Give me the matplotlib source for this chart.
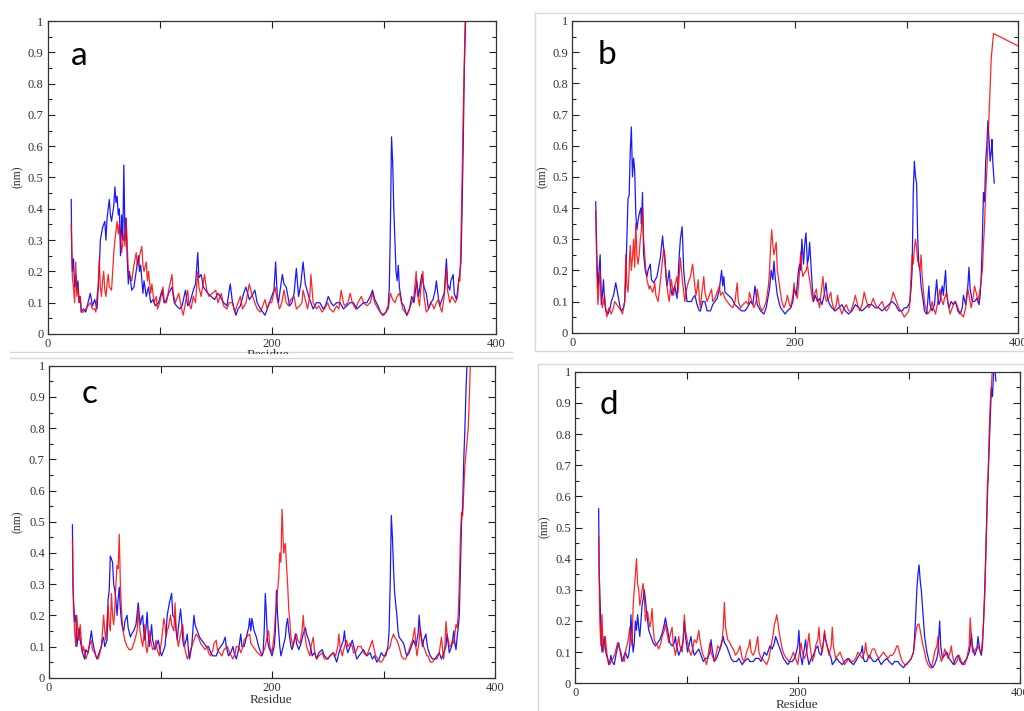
import matplotlib
matplotlib.use("Agg")
import matplotlib.pyplot as plt
from matplotlib.lines import Line2D
from matplotlib.ticker import FixedLocator, MultipleLocator, FuncFormatter
from matplotlib.transforms import Bbox, TransformedBbox

#-------RMSF data (residue, nm)-------#

a_blue = [(21,0.43),(21.5,0.27),(22,0.2),(23,0.24),(24,0.15),(25,0.19),(26,0.14),(27,0.17),(28,0.1),(29,0.12),(30,0.07),(32,0.08),(34,0.07),(36,0.1),(38,0.13),(40,0.09),(42,0.11),(44,0.08),(46,0.2),(47,0.3),(49,0.34),(51,0.36),(52,0.3),(53,0.37),(55,0.43),(56,0.38),(57,0.36),(59,0.41),(60,0.47),(61,0.42),(62,0.44),(63,0.38),(64,0.4),(65,0.25),(66,0.38),(67,0.3),(68,0.54),(69,0.3),(70,0.37),(71,0.24),(72,0.16),(73,0.2),(75,0.14),(77,0.15),(79,0.2),(81,0.25),(82,0.2),(83,0.22),(85,0.13),(86,0.17),(88,0.12),(90,0.15),(92,0.1),(94,0.11),(96,0.09),(99,0.1),(102,0.14),(104,0.1),(106,0.11),(108,0.13),(111,0.15),(113,0.1),(115,0.09),(118,0.08),(120,0.09),(123,0.14),(125,0.09),(127,0.1),(130,0.14),(132,0.16),(134,0.26),(135,0.18),(137,0.19),(139,0.15),(141,0.14),(143,0.13),(146,0.12),(149,0.11),(152,0.13),(154,0.12),(157,0.1),(160,0.09),(163,0.16),(165,0.1),(168,0.06),(170,0.08),(172,0.09),(175,0.13),(177,0.15),(180,0.11),(182,0.12),(185,0.14),(187,0.1),(190,0.08),(192,0.07),(194,0.06),(196,0.08),(198,0.1),(200,0.12),(202,0.14),(203.5,0.23),(205,0.12),(206,0.1),(208,0.15),(209.5,0.19),(211,0.16),(213,0.15),(216,0.09),(218,0.1),(220,0.13),(222,0.21),(224,0.12),(226,0.16),(228,0.23),(230,0.16),(233,0.12),(235,0.1),(237,0.08),(240,0.1),(243,0.1),(246,0.08),(248,0.09),(250.5,0.12),(253,0.1),(255,0.09),(258,0.1),(261,0.1),(264,0.08),(267,0.09),(270,0.1),(273,0.1),(276,0.08),(279,0.09),(282,0.1),(285,0.1),(288,0.12),(290,0.14),(292,0.11),(295,0.09),(297,0.07),(299,0.06),(302,0.07),(304,0.09),(305,0.15),(306,0.35),(307,0.63),(308,0.55),(309,0.4),(310,0.3),(311,0.2),(312,0.17),(313,0.22),(314,0.15),(316,0.1),(318,0.09),(320.5,0.06),(323,0.08),(325,0.12),(327,0.1),(329.5,0.17),(331,0.12),(334,0.19),(336,0.15),(338,0.13),(340,0.08),(342,0.1),(344,0.11),(346,0.14),(347,0.17),(349,0.11),(350,0.09),(352,0.11),(354,0.13),(356,0.24),(357,0.16),(359,0.14),(360,0.17),(362,0.19),(363,0.13),(365,0.11),(366,0.14),(367.5,0.18),(369,0.23),(370,0.4),(371,0.6),(372,0.85),(373.5,1.05)]

a_red = [(21,0.35),(22,0.18),(23,0.15),(24,0.1),(25,0.23),(26,0.12),(27,0.15),(28,0.1),(29,0.12),(30,0.07),(32,0.07),(34,0.08),(36,0.09),(38,0.1),(40,0.08),(42,0.08),(43,0.07),(44,0.12),(45,0.15),(46,0.24),(47,0.15),(48,0.12),(49,0.17),(50,0.2),(51,0.14),(52,0.12),(53,0.16),(54,0.19),(55,0.15),(57,0.14),(58,0.2),(59,0.26),(60,0.3),(62,0.36),(63,0.32),(64,0.35),(65,0.3),(66,0.26),(67,0.29),(68,0.32),(69,0.28),(70,0.37),(71,0.28),(72,0.2),(74,0.18),(75,0.17),(77,0.22),(79,0.26),(80,0.22),(81,0.22),(82,0.25),(84,0.28),(85,0.22),(86,0.2),(88,0.23),(89,0.17),(90,0.2),(92,0.13),(93,0.16),(95,0.1),(97,0.12),(98,0.08),(100,0.1),(103,0.15),(104,0.1),(106,0.1),(108,0.14),(111,0.19),(112,0.13),(114,0.1),(117,0.13),(119,0.09),(121,0.06),(123,0.1),(125,0.14),(126,0.1),(128,0.08),(130,0.12),(132,0.1),(134,0.2),(135,0.15),(137,0.12),(140,0.19),(142,0.14),(144,0.12),(147,0.13),(150,0.14),(152,0.1),(155,0.13),(157,0.09),(160,0.08),(162,0.1),(165,0.1),(167,0.07),(168,0.08),(170,0.1),(172,0.12),(174,0.08),(177,0.1),(180,0.16),(182,0.13),(185,0.1),(187,0.08),(190,0.07),(192,0.09),(194,0.11),(196,0.08),(198,0.1),(200,0.1),(203,0.15),(205,0.11),(207,0.08),(209,0.1),(211,0.14),(213,0.1),(215,0.09),(217,0.11),(220,0.12),(222,0.08),(225,0.09),(227,0.1),(228,0.14),(230,0.11),(232,0.08),(234,0.12),(235,0.19),(237,0.1),(240,0.08),(242,0.09),(245,0.07),(247,0.08),(250,0.1),(252,0.08),(255,0.07),(258,0.09),(260,0.08),(262,0.14),(264,0.1),(265,0.09),(268,0.1),(270,0.13),(272,0.1),(275,0.08),(277,0.1),(280,0.12),(282,0.1),(285,0.09),(288,0.1),(290,0.13),(292,0.1),(295,0.08),(297,0.07),(300,0.06),(302,0.07),(304,0.08),(306,0.13),(308,0.11),(310,0.1),(312,0.12),(314,0.13),(316,0.1),(317,0.08),(319,0.07),(321,0.06),(323,0.08),(325,0.1),(327,0.12),(329,0.2),(330,0.13),(332,0.09),(333,0.14),(335,0.2),(336,0.12),(338,0.07),(340,0.08),(342,0.1),(344,0.09),(345,0.08),(347,0.1),(349,0.11),(350,0.09),(352,0.07),(354,0.12),(356,0.21),(357,0.14),(359,0.1),(361,0.12),(364,0.1),(366,0.12),(367,0.18),(368,0.17),(369,0.3),(370,0.5),(371,0.7),(372,0.88),(373,1.05)]

b_blue = [(21,0.42),(22,0.25),(23,0.14),(24,0.2),(25,0.25),(26,0.09),(27,0.12),(28,0.17),(29,0.1),(30,0.07),(32,0.06),(34,0.08),(35,0.1),(37,0.12),(39,0.16),(41,0.12),(43,0.08),(44,0.07),(46,0.08),(47,0.1),(48,0.18),(49,0.3),(50,0.43),(51,0.44),(52,0.58),(53,0.66),(54,0.5),(55,0.56),(56,0.52),(56.5,0.45),(57,0.38),(58,0.33),(59,0.36),(60,0.38),(61.5,0.4),(62,0.35),(63,0.45),(64,0.25),(65.5,0.2),(67,0.18),(68,0.2),(70,0.22),(71,0.17),(73,0.16),(76,0.18),(78,0.22),(79,0.24),(81,0.31),(82,0.27),(83,0.25),(84,0.18),(85,0.15),(87,0.2),(88,0.15),(89.5,0.12),(91,0.14),(92,0.15),(94,0.11),(95,0.18),(96,0.25),(97,0.3),(98.5,0.34),(99,0.3),(100,0.2),(101,0.16),(103,0.1),(105,0.1),(107,0.1),(108,0.11),(110,0.12),(112,0.09),(114,0.07),(115,0.07),(117,0.1),(119,0.1),(121,0.07),(124,0.07),(126,0.09),(128,0.1),(130,0.11),(132,0.14),(134,0.2),(135,0.15),(136,0.18),(137,0.13),(140,0.12),(143,0.11),(146,0.09),(149,0.08),(152,0.07),(155,0.07),(157,0.08),(160,0.1),(162,0.09),(164,0.15),(166,0.09),(169,0.07),(172,0.06),(174,0.08),(175,0.1),(177,0.14),(178.5,0.2),(180,0.17),(181,0.23),(182,0.18),(184,0.12),(186,0.09),(187,0.08),(189,0.07),(191,0.06),(193,0.07),(196,0.08),(198,0.1),(199,0.14),(201,0.12),(203,0.2),(204,0.22),(205,0.2),(206,0.3),(207.5,0.22),(208.5,0.28),(209.7,0.32),(211,0.22),(212,0.24),(213,0.29),(214.5,0.2),(215.5,0.14),(216.5,0.1),(218,0.12),(220,0.1),(222,0.11),(224,0.09),(226,0.12),(227.6,0.16),(229,0.11),(231,0.09),(233,0.08),(236,0.07),(239,0.08),(242,0.09),(245,0.07),(248,0.06),(251,0.07),(254,0.09),(257,0.08),(260,0.07),(263,0.08),(266,0.09),(269,0.09),(272,0.08),(275,0.08),(278,0.07),(281,0.08),(284,0.09),(287,0.1),(290,0.09),(293,0.07),(296,0.07),(298,0.08),(300,0.08),(302,0.09),(303,0.1),(304,0.14),(305,0.2),(306,0.45),(307,0.55),(308,0.5),(309,0.48),(310,0.3),(311,0.22),(312,0.2),(313,0.15),(315,0.1),(316,0.07),(318,0.06),(319,0.1),(320,0.15),(321,0.09),(323,0.07),(325,0.09),(327,0.17),(328,0.12),(329,0.09),(330,0.1),(332,0.15),(333,0.12),(335,0.2),(336,0.12),(338,0.08),(340,0.1),(342,0.09),(344,0.1),(346,0.07),(348,0.06),(350,0.08),(351,0.12),(353,0.09),(355,0.15),(356,0.21),(357,0.14),(359,0.1),(361,0.1),(363,0.11),(365,0.09),(366,0.12),(367,0.18),(368,0.3),(369,0.45),(370,0.42),(371,0.55),(372,0.6),(373,0.68),(374,0.62),(375,0.55),(376,0.58),(376.6,0.62),(377.5,0.54),(378.7,0.48)]

b_red = [(21,0.39),(22,0.2),(23,0.09),(24,0.15),(25,0.2),(26,0.12),(27,0.08),(28,0.1),(29,0.12),(30,0.08),(31,0.05),(32,0.07),(33,0.08),(35,0.06),(37,0.08),(38,0.1),(40,0.09),(42,0.08),(44,0.07),(45,0.06),(47,0.1),(48,0.25),(49,0.15),(50,0.13),(51,0.2),(52,0.28),(53,0.2),(54,0.24),(55,0.3),(56,0.21),(57,0.35),(58,0.25),(59,0.22),(60,0.25),(61,0.3),(62,0.33),(63,0.4),(64,0.3),(65,0.25),(66,0.2),(67,0.17),(69,0.14),(70,0.15),(72,0.13),(73,0.14),(74,0.16),(75,0.12),(77,0.1),(78,0.13),(80,0.2),(82,0.27),(83,0.23),(84,0.2),(85,0.15),(86,0.12),(87,0.1),(88,0.14),(89,0.17),(90,0.14),(91,0.12),(92,0.15),(94,0.18),(95,0.13),(97,0.24),(98,0.2),(99,0.16),(101,0.1),(102,0.13),(104,0.16),(106,0.18),(108,0.22),(110,0.15),(111,0.12),(112,0.14),(113,0.17),(114,0.11),(115,0.08),(116,0.12),(118,0.18),(119,0.13),(121,0.1),(123,0.12),(125,0.14),(126,0.1),(128,0.11),(130,0.13),(132,0.15),(133,0.12),(135,0.13),(137,0.11),(139,0.1),(141,0.09),(144,0.08),(146,0.1),(148,0.16),(149,0.1),(151,0.08),(153,0.09),(156,0.1),(158,0.09),(159,0.13),(161,0.1),(163,0.08),(165,0.1),(166,0.14),(168,0.09),(170,0.07),(172,0.08),(174,0.1),(176,0.15),(177,0.2),(178,0.28),(179,0.33),(180,0.28),(181,0.25),(182,0.27),(183,0.29),(184,0.2),(186,0.15),(188,0.1),(190,0.08),(192,0.1),(193,0.12),(195,0.09),(196,0.08),(198,0.12),(199,0.16),(200,0.13),(202,0.11),(203,0.15),(204,0.2),(205,0.26),(206,0.2),(207,0.18),(208,0.19),(210,0.2),(211,0.22),(212,0.19),(213,0.17),(215,0.12),(216,0.1),(217,0.12),(219,0.14),(220,0.11),(222,0.08),(223,0.12),(225,0.18),(226,0.13),(228,0.1),(230,0.11),(232,0.13),(233,0.1),(235,0.07),(237,0.09),(238,0.12),(240,0.08),(242,0.06),(244,0.08),(246,0.09),(248,0.07),(250,0.07),(252,0.09),(254,0.12),(256,0.09),(258,0.07),(260,0.09),(262,0.13),(264,0.1),(266,0.08),(268,0.09),(270,0.11),(272,0.09),(274,0.08),(276,0.09),(278,0.1),(280,0.08),(282,0.07),(284,0.08),(286,0.1),(288,0.13),(290,0.11),(292,0.09),(293,0.08),(295,0.07),(298,0.05),(300,0.06),(302,0.07),(303,0.1),(304,0.18),(305,0.25),(306,0.22),(307,0.27),(308,0.3),(309,0.27),(310,0.23),(311,0.22),(312,0.2),(313,0.25),(314,0.18),(316,0.1),(317,0.08),(319,0.06),(321,0.07),(323,0.1),(324,0.08),(326,0.06),(328,0.1),(330,0.14),(331,0.11),(333,0.09),(334,0.11),(336,0.13),(337,0.1),(339,0.06),(341,0.08),(343,0.1),(345,0.09),(347,0.07),(349,0.06),(351,0.05),(353,0.08),(355,0.14),(356,0.12),(358,0.08),(360,0.12),(361,0.15),(363,0.12),(364,0.1),(366,0.14),(367,0.17),(368,0.2),(369,0.28),(370,0.35),(371,0.45),(372,0.52),(373,0.6),(374,0.7),(376,0.88),(378,0.96),(400,0.92)]

c_blue = [(21,0.49),(21.5,0.3),(22,0.25),(23,0.18),(24,0.2),(25,0.1),(26,0.13),(27,0.16),(28,0.12),(29,0.1),(30,0.08),(32,0.06),(33,0.09),(35,0.08),(36,0.1),(38,0.15),(39,0.12),(40,0.1),(42,0.07),(43,0.06),(45,0.08),(47,0.1),(48,0.12),(49,0.13),(50,0.1),(52,0.12),(53,0.25),(54,0.28),(55,0.39),(56,0.38),(57,0.37),(58,0.3),(59,0.28),(60,0.25),(61,0.2),(62,0.25),(63,0.29),(64,0.22),(65,0.18),(66,0.16),(67,0.15),(68,0.18),(70,0.2),(71,0.16),(73,0.13),(74,0.14),(76,0.15),(78,0.17),(80,0.24),(81,0.2),(82,0.17),(83,0.19),(84,0.2),(85,0.15),(86,0.12),(87,0.16),(88,0.21),(89,0.14),(90,0.1),(91,0.13),(92,0.17),(93,0.12),(95,0.09),(96,0.1),(98,0.12),(100,0.08),(101,0.07),(103,0.09),(104,0.1),(105,0.14),(106,0.2),(108,0.24),(110,0.27),(111,0.2),(113,0.19),(114,0.15),(115,0.12),(116,0.16),(118,0.22),(119,0.18),(120,0.12),(121,0.1),(123,0.12),(124,0.14),(125,0.09),(126,0.06),(128,0.1),(129,0.15),(130,0.2),(131,0.17),(133,0.15),(135,0.13),(137,0.12),(139,0.11),(141,0.1),(143,0.1),(145,0.08),(147,0.07),(150,0.07),(152,0.09),(154,0.1),(156,0.11),(158,0.13),(159,0.1),(161,0.07),(163,0.08),(165,0.1),(166,0.08),(168,0.06),(170,0.09),(172,0.14),(173,0.1),(175,0.1),(177,0.13),(179,0.16),(180,0.19),(181,0.15),(182,0.19),(183,0.17),(184,0.15),(186,0.13),(188,0.1),(189,0.09),(191,0.07),(192,0.08),(193,0.15),(194,0.27),(195,0.2),(196,0.12),(197,0.1),(199,0.08),(200,0.07),(202,0.1),(203,0.15),(204,0.28),(205,0.2),(206,0.15),(207,0.1),(208,0.07),(210,0.1),(212,0.13),(213,0.17),(214,0.19),(215,0.15),(217,0.1),(218,0.09),(220,0.12),(221,0.14),(222,0.11),(224,0.09),(226,0.11),(228,0.14),(230,0.16),(231,0.14),(233,0.12),(235,0.09),(236,0.07),(238,0.08),(240,0.06),(242,0.08),(245,0.09),(247,0.07),(250,0.06),(252,0.07),(255,0.08),(257,0.06),(258,0.05),(260,0.08),(262,0.1),(264,0.12),(265,0.15),(266,0.11),(268,0.08),(270,0.1),(272,0.12),(274,0.09),(276,0.06),(278,0.07),(280,0.08),(282,0.09),(285,0.07),(288,0.08),(290,0.06),(292,0.07),(294,0.05),(296,0.06),(298,0.08),(300,0.07),(302,0.07),(304,0.1),(305,0.15),(306,0.3),(307,0.52),(308,0.45),(309,0.35),(310,0.27),(312,0.2),(313,0.15),(314,0.13),(316,0.12),(318,0.11),(320,0.08),(321,0.07),(323,0.08),(325,0.1),(327,0.12),(329,0.1),(331,0.14),(332,0.2),(333,0.15),(335,0.1),(336,0.12),(338,0.14),(339,0.11),(340,0.09),(342,0.07),(344,0.06),(346,0.06),(348,0.07),(350,0.08),(352,0.06),(354,0.08),(356,0.1),(357,0.14),(358,0.11),(359,0.08),(361,0.1),(362,0.12),(363,0.15),(364,0.11),(365,0.09),(366,0.13),(367,0.16),(368,0.2),(369,0.35),(370,0.5),(371,0.55),(372,0.7),(373,0.8),(374,0.92),(375,1.02)]

c_red = [(21,0.44),(21.5,0.3),(22,0.22),(23,0.15),(24,0.1),(25,0.2),(26,0.14),(27,0.12),(28,0.17),(29,0.12),(30,0.08),(31,0.1),(33,0.06),(35,0.08),(36,0.1),(38,0.12),(39,0.09),(41,0.08),(42,0.07),(44,0.06),(45,0.07),(47,0.1),(48,0.15),(49,0.2),(50,0.15),(51,0.12),(52,0.18),(53,0.23),(54,0.17),(55,0.15),(56,0.27),(57,0.2),(58,0.17),(59,0.22),(60,0.3),(61,0.36),(62,0.35),(63,0.46),(64,0.3),(65,0.22),(66,0.16),(67,0.14),(68,0.12),(70,0.1),(72,0.09),(74,0.09),(75,0.1),(77,0.12),(79,0.15),(80,0.22),(81,0.17),(82,0.14),(83,0.12),(84,0.1),(85,0.13),(86,0.17),(87,0.1),(88,0.08),(89,0.11),(90,0.15),(91,0.12),(93,0.09),(95,0.1),(96,0.12),(97,0.09),(99,0.07),(101,0.12),(103,0.19),(104,0.17),(105,0.13),(106,0.15),(107,0.16),(109,0.2),(110,0.17),(112,0.15),(113,0.24),(114,0.16),(116,0.1),(117,0.12),(118,0.14),(120,0.17),(121,0.12),(122,0.09),(124,0.06),(126,0.08),(128,0.1),(130,0.12),(132,0.14),(134,0.13),(136,0.11),(138,0.1),(140,0.09),(142,0.1),(143,0.08),(145,0.07),(147,0.09),(148,0.11),(150,0.12),(151,0.09),(153,0.08),(155,0.07),(157,0.09),(160,0.1),(162,0.08),(165,0.06),(167,0.08),(168,0.1),(170,0.1),(172,0.08),(174,0.1),(175,0.12),(177,0.13),(180,0.14),(181,0.11),(183,0.1),(185,0.09),(187,0.08),(190,0.07),(192,0.08),(194,0.1),(195,0.12),(197,0.15),(198,0.1),(200,0.08),(201,0.11),(202,0.14),(203,0.2),(204,0.23),(205,0.28),(206,0.32),(207,0.4),(208,0.37),(209,0.54),(210,0.44),(210.5,0.4),(211,0.42),(212,0.43),(213,0.36),(214,0.3),(215,0.22),(216,0.18),(217,0.13),(219,0.1),(220,0.12),(222,0.14),(223,0.12),(225,0.11),(227,0.15),(228,0.2),(229,0.15),(231,0.1),(232,0.09),(234,0.07),(235,0.1),(237,0.13),(238,0.09),(240,0.06),(242,0.07),(245,0.08),(247,0.06),(250,0.06),(252,0.07),(255,0.08),(257,0.07),(259,0.1),(260,0.14),(261,0.1),(263,0.07),(265,0.1),(267,0.12),(268,0.1),(270,0.11),(272,0.1),(273,0.08),(275,0.08),(277,0.1),(280,0.1),(282,0.08),(285,0.07),(287,0.09),(288,0.1),(290,0.12),(291,0.1),(293,0.07),(295,0.06),(297,0.05),(298,0.05),(300,0.06),(302,0.08),(304,0.09),(306,0.1),(307,0.12),(309,0.14),(310,0.13),(312,0.12),(314,0.1),(316,0.07),(318,0.06),(320,0.06),(322,0.08),(324,0.1),(326,0.12),(328,0.16),(329,0.1),(330,0.07),(332,0.12),(333,0.16),(334,0.13),(336,0.1),(337,0.09),(339,0.07),(340,0.07),(342,0.05),(344,0.05),(346,0.06),(348,0.06),(350,0.08),(352,0.13),(353,0.09),(354,0.06),(355,0.1),(356,0.18),(357,0.14),(359,0.1),(360,0.1),(362,0.12),(363,0.11),(365,0.17),(366,0.16),(367,0.2),(368,0.3),(369,0.45),(370,0.53),(371,0.52),(372,0.6),(373,0.68),(374,0.72),(376,0.8),(377,0.9),(378,1.02)]

d_blue = [(21,0.56),(21.5,0.35),(22,0.3),(23,0.18),(24,0.1),(25,0.12),(26,0.15),(27,0.11),(28,0.09),(29,0.08),(30,0.06),(31,0.07),(32,0.09),(33,0.07),(35,0.06),(36,0.08),(37,0.1),(39,0.13),(40,0.11),(42,0.07),(43,0.08),(45,0.1),(47,0.08),(48,0.09),(49,0.12),(50,0.22),(51,0.15),(52,0.1),(53,0.13),(54,0.2),(55,0.17),(56,0.22),(57,0.18),(58,0.15),(59,0.2),(60,0.25),(61,0.27),(62,0.3),(63,0.27),(64,0.23),(65,0.2),(66,0.17),(67,0.16),(69,0.14),(70,0.13),(72,0.12),(74,0.13),(76,0.14),(78,0.16),(80,0.19),(81,0.21),(82,0.19),(84,0.15),(85,0.13),(87,0.12),(89,0.13),(90,0.15),(91,0.12),(93,0.09),(94,0.1),(96,0.12),(97,0.14),(98,0.2),(99,0.15),(101,0.1),(102,0.12),(104,0.15),(105,0.12),(107,0.09),(109,0.1),(111,0.11),(113,0.09),(115,0.07),(117,0.08),(119,0.08),(121,0.1),(122,0.14),(123,0.11),(125,0.07),(127,0.08),(129,0.1),(131,0.12),(133,0.15),(134,0.13),(136,0.12),(138,0.1),(140,0.08),(142,0.07),(145,0.07),(147,0.08),(150,0.06),(152,0.07),(155,0.08),(157,0.07),(160,0.07),(162,0.08),(165,0.08),(167,0.07),(170,0.1),(172,0.09),(175,0.12),(177,0.11),(179,0.13),(180,0.15),(181,0.14),(183,0.12),(185,0.1),(187,0.08),(189,0.07),(191,0.06),(193,0.07),(195,0.07),(197,0.08),(198,0.09),(200,0.12),(201,0.17),(202,0.1),(204,0.06),(205,0.09),(207,0.14),(208,0.1),(210,0.06),(212,0.08),(214,0.09),(216,0.11),(218,0.12),(219,0.1),(221,0.09),(223,0.13),(224,0.16),(225,0.14),(227,0.11),(228,0.1),(230,0.08),(231,0.06),(233,0.07),(235,0.08),(237,0.07),(240,0.06),(242,0.07),(245,0.08),(247,0.07),(250,0.06),(252,0.07),(255,0.09),(257,0.1),(258,0.12),(259,0.08),(260,0.07),(262,0.07),(264,0.09),(266,0.08),(268,0.07),(270,0.07),(272,0.08),(275,0.06),(277,0.07),(280,0.08),(282,0.07),(285,0.06),(287,0.07),(290,0.07),(292,0.06),(295,0.05),(297,0.06),(300,0.07),(302,0.08),(304,0.1),(305,0.15),(306,0.22),(307,0.3),(308,0.35),(309,0.38),(310,0.33),(311,0.3),(312,0.25),(313,0.2),(314,0.15),(316,0.1),(318,0.07),(319,0.06),(321,0.05),(323,0.06),(325,0.08),(326,0.1),(327.5,0.2),(328.5,0.12),(330,0.08),(332,0.09),(334,0.1),(336,0.08),(338,0.07),(340,0.06),(342,0.08),(344,0.09),(346,0.07),(348,0.06),(350,0.07),(352,0.08),(354,0.1),(355,0.12),(356,0.16),(357,0.12),(359,0.09),(361,0.11),(362,0.15),(363,0.12),(364,0.1),(365,0.09),(366,0.12),(367,0.2),(368,0.3),(369,0.43),(370,0.55),(371,0.66),(372,0.75),(373,0.85),(374,0.95),(375,0.92),(376,1.0),(377,1.02),(378,0.97)]

d_red = [(21,0.47),(21.5,0.32),(22,0.2),(23,0.12),(24,0.22),(25,0.1),(26,0.12),(27,0.15),(28,0.11),(29,0.08),(30,0.07),(31,0.06),(32,0.07),(34,0.08),(36,0.1),(38,0.13),(39,0.12),(41,0.1),(42,0.08),(44,0.07),(45,0.1),(47,0.13),(48,0.15),(49,0.18),(50,0.14),(51,0.12),(52,0.25),(53,0.3),(54,0.35),(55,0.4),(56,0.32),(57,0.3),(58,0.25),(59,0.27),(60,0.3),(61,0.32),(62,0.28),(63,0.2),(64,0.22),(65,0.23),(66,0.2),(67,0.18),(68,0.2),(69,0.24),(70,0.18),(71,0.14),(72,0.13),(74,0.12),(75,0.11),(77,0.13),(78,0.15),(80,0.17),(81,0.19),(82,0.17),(84,0.13),(85,0.15),(87,0.18),(88,0.13),(90,0.09),(91,0.11),(93,0.15),(94,0.12),(96,0.1),(97,0.14),(98,0.22),(99,0.17),(101,0.13),(102,0.11),(104,0.09),(105,0.1),(107,0.14),(109,0.13),(111,0.17),(112,0.14),(114,0.1),(116,0.08),(118,0.06),(119,0.08),(121,0.13),(122,0.1),(124,0.08),(125,0.07),(127,0.1),(128,0.12),(130,0.11),(132,0.14),(133,0.18),(134,0.26),(135,0.18),(137,0.14),(139,0.13),(140,0.12),(142,0.11),(144,0.09),(146,0.1),(148,0.12),(149,0.1),(150,0.08),(152,0.07),(154,0.1),(156,0.12),(157,0.14),(158,0.1),(160,0.09),(162,0.11),(164,0.15),(165,0.1),(167,0.08),(168,0.08),(170,0.07),(172,0.06),(174,0.08),(175,0.1),(177,0.14),(178,0.16),(179,0.19),(180,0.2),(181,0.22),(182,0.2),(183,0.17),(184,0.15),(186,0.11),(188,0.09),(190,0.08),(192,0.07),(194,0.08),(196,0.1),(198,0.08),(200,0.06),(201,0.09),(203,0.13),(204,0.1),(206,0.08),(208,0.1),(210,0.16),(211,0.12),(213,0.07),(215,0.09),(216,0.12),(218,0.14),(219,0.18),(220,0.13),(222,0.1),(223,0.13),(224,0.17),(225,0.14),(227,0.11),(228,0.09),(230,0.12),(231,0.18),(232,0.12),(234,0.08),(236,0.09),(238,0.1),(240,0.08),(242,0.06),(244,0.07),(246,0.08),(248,0.07),(250,0.07),(252,0.08),(254,0.1),(256,0.09),(258,0.08),(260,0.1),(261,0.13),(262,0.1),(264,0.08),(265,0.09),(267,0.11),(269,0.11),(271,0.09),(273,0.08),(275,0.09),(277,0.1),(279,0.09),(281,0.08),(283,0.09),(285,0.09),(287,0.1),(289,0.12),(290,0.12),(292,0.09),(294,0.07),(296,0.06),(298,0.06),(300,0.07),(302,0.08),(304,0.1),(305,0.13),(306,0.16),(307,0.18),(308,0.19),(309,0.19),(310,0.17),(311,0.15),(312,0.13),(314,0.1),(315,0.08),(317,0.06),(319,0.05),(320,0.05),(322,0.08),(323,0.1),(325,0.12),(326,0.15),(327,0.1),(329,0.07),(331,0.09),(332,0.11),(334,0.09),(335,0.08),(337,0.1),(338,0.12),(339,0.09),(341,0.06),(343,0.07),(345,0.09),(347,0.07),(349,0.06),(350,0.06),(352,0.08),(354,0.12),(355,0.21),(356,0.15),(357,0.1),(358,0.1),(360,0.11),(362,0.12),(363,0.11),(365,0.1),(366,0.14),(367,0.2),(368,0.28),(369,0.4),(370,0.55),(370.5,0.65),(371,0.65),(372,0.8),(373,0.9),(374,0.95),(375,1.02)]

panel_letters = ['a', 'b', 'c', 'd']
x_ticks = [0, 100, 200, 300, 400]
x_tick_labels = ['0', '', '200', '', '400']

W, H = 1024, 711


def fx(px):
    return px / W


def fy(py):
    return 1 - py / H


def axes_box(left, top, right, bottom):
    # pixel box of the plot frame -> figure fractions
    return [fx(left), fy(bottom), (right - left) / W, (bottom - top) / H]


def style_axes(ax):
    ax.set_xlim(0, 400)
    ax.set_ylim(0, 1)
    ax.xaxis.set_major_locator(FixedLocator(x_ticks))
    ax.set_xticklabels(x_tick_labels)
    ax.yaxis.set_major_locator(MultipleLocator(0.1))
    ax.yaxis.set_minor_locator(MultipleLocator(0.05))
    ax.yaxis.set_major_formatter(FuncFormatter(lambda v, p: f"{v:.1f}".rstrip('0').rstrip('.') if v else '0'))
    ax.tick_params(which='both', direction='in', top=True, right=True, width=0.8,
                   colors='#222222', labelcolor='#333333')
    ax.tick_params(which='major', length=5, pad=3, labelsize=9)
    ax.tick_params(which='minor', length=3)
    for s in ax.spines.values():
        s.set_linewidth(0.9)
        s.set_color('#333333')
    for lab in ax.get_xticklabels() + ax.get_yticklabels():
        lab.set_fontfamily('Liberation Serif')


def draw(ax, blue, red):
    bx, by = zip(*blue)
    rx, ry = zip(*red)
    ax.plot(bx, by, color='#0000ff', lw=0.9, alpha=0.9)
    ax.plot(rx, ry, color='#ff0000', lw=0.9, alpha=0.85)


fig = plt.figure(figsize=(W / 100, H / 100), dpi=100)

boxes = [
    axes_box(47.7, 21, 495.7, 334),
    axes_box(572.3, 21, 1018, 332.7),
    axes_box(49, 365.7, 495, 677.7),
    axes_box(575.3, 371.7, 1020.3, 683.3),
]
series = [(a_blue, a_red), (b_blue, b_red), (c_blue, c_red), (d_blue, d_red)]
letter_pos = [(70.5, 65), (598, 64), (82, 403), (600, 414)]
ylabel_pos = [(18, 177), (543, 177), (18, 522), (545, 527)]

for box, (blue, red), letter, lp, yp in zip(boxes, series, panel_letters, letter_pos, ylabel_pos):
    ax = fig.add_axes(box)
    draw(ax, blue, red)
    style_axes(ax)
    fig.text(fx(lp[0]), fy(lp[1]), letter, fontsize=24, family='Lato',
             ha='left', va='baseline', color='black')
    fig.text(fx(yp[0]), fy(yp[1]), '(nm)', rotation=90, fontsize=8.5,
             family='Liberation Serif', ha='center', va='center', color='#333333')

# x labels of the lower panels
fig.text(fx(271), fy(700), 'Residue', fontsize=9.5, family='Liberation Serif',
         ha='center', va='center', color='#333333')
fig.text(fx(797), fy(705), 'Residue', fontsize=9.5, family='Liberation Serif',
         ha='center', va='center', color='#333333')

# panel a label is cut off by the screenshot crop
t = fig.text(fx(268), fy(349.5), 'Residue', fontsize=9.5, family='Liberation Serif',
             ha='center', va='top', color='#333333')
t.set_clip_box(TransformedBbox(Bbox([[0, fy(353.5)], [1, 1]]), fig.transFigure))
t.set_clip_on(True)

# light grey borders of the pasted screenshots
grey = '#d8d8d8'
frame_lines = [
    ((10, 512), (352, 352)),
    ((10, 512), (358, 358)),
    ((535, 1024), (13, 13)),
    ((535, 535), (13, 351)),
    ((535, 1024), (351, 351)),
    ((538, 1024), (364, 364)),
    ((538, 538), (364, 711)),
]
for xs, ys in frame_lines:
    fig.add_artist(Line2D([fx(v) for v in xs], [fy(v) for v in ys],
                          color=grey, lw=1.0, transform=fig.transFigure))

fig.savefig('out.png', dpi=100)
